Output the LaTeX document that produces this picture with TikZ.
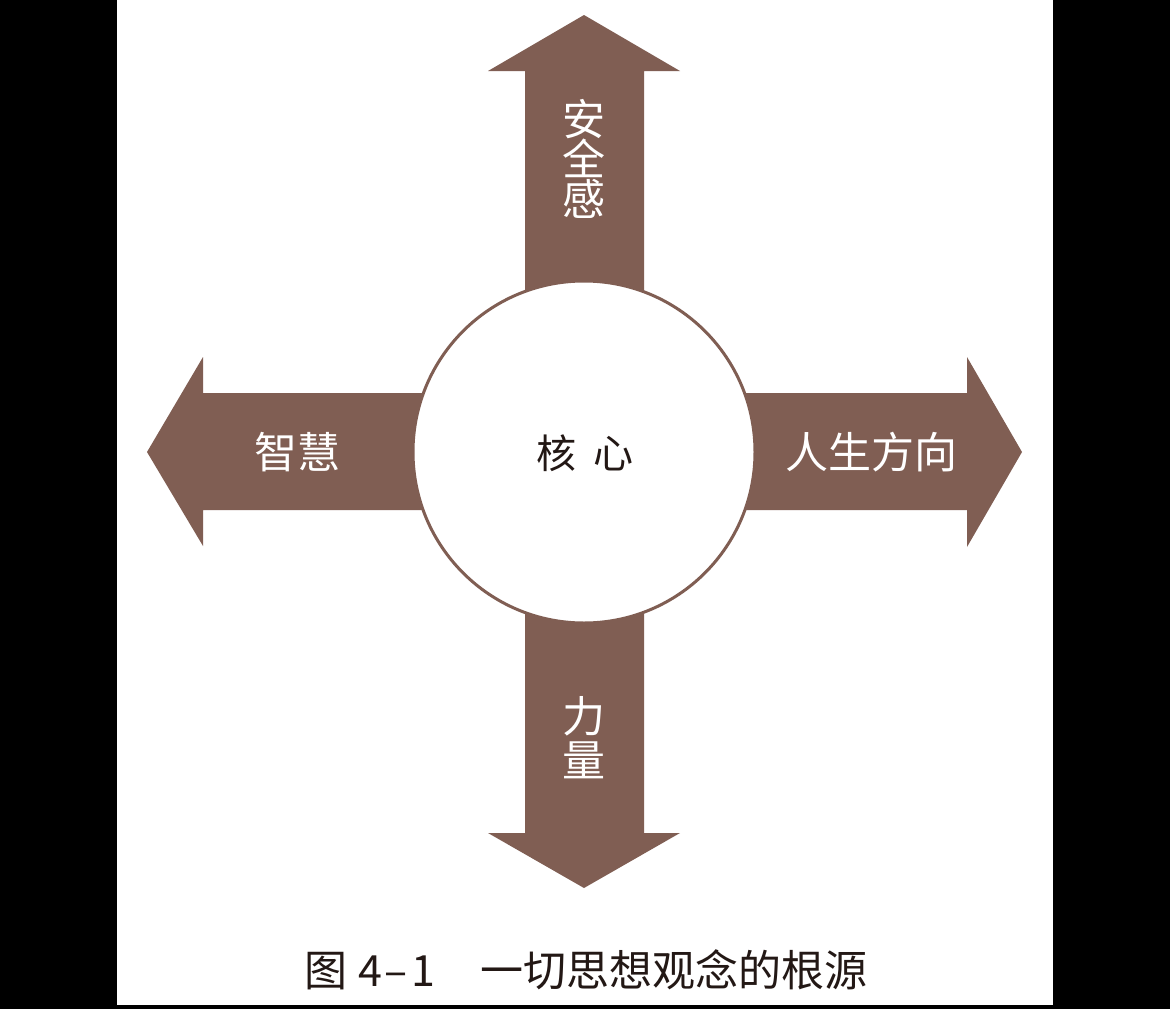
\documentclass[tikz,border=0pt]{standalone}
\usepackage{fontspec}
\newfontfamily\cjk{Noto Sans CJK SC}
\definecolor{arrowbrown}{RGB}{128,94,83}
\definecolor{captionblack}{RGB}{35,24,21}
\tikzset{
  arrowshape/.style={fill=arrowbrown, draw=none},
  corecircle/.style={circle, draw=arrowbrown, line width=3pt, fill=white, minimum size=342pt, inner sep=0pt},
  whitelabel/.style={text=white, font=\cjk\fontsize{43}{43}\selectfont, inner sep=0pt},
  vlabel/.style={whitelabel, align=center},
  corelabel/.style={text=captionblack, font=\cjk\fontsize{40}{40}\selectfont, inner sep=0pt},
  captionlabel/.style={text=captionblack, font=\cjk\fontsize{43}{43}\selectfont, inner sep=0pt}
}
\begin{document}
\begin{tikzpicture}[x=1pt,y=-1pt]
\useasboundingbox (0,0) rectangle (1170,1009);
\fill[black] (0,0) rectangle (1170,1009);
\fill[white] (117,0) rectangle (1053,1005);
% top arrow
\path[arrowshape] (525,452) -- (525,71) -- (488,71) -- (584,15) -- (680,71) -- (644,71) -- (644,452) -- cycle;
% bottom arrow
\path[arrowshape] (525,452) -- (525,833) -- (488,833) -- (584,888) -- (680,833) -- (644,833) -- (644,452) -- cycle;
% left arrow
\path[arrowshape] (584,393) -- (203,393) -- (203,357) -- (147,452) -- (203,546) -- (203,510) -- (584,510) -- cycle;
% right arrow
\path[arrowshape] (584,393) -- (967,393) -- (967,357) -- (1022,452) -- (967,547) -- (967,510) -- (584,510) -- cycle;
% circle
\node[corecircle] (core) at (584,452) {};
\node[corelabel] (corelbl) at (585,453) {核\hspace{0.45em}心};
\node[vlabel] (safety) at (584,159) {安\\[-3pt]全\\[-3pt]感};
\node[vlabel] (power) at (584,738) {力\\[1pt]量};
\node[whitelabel] (wisdom) at (297,452) {智慧};
\node[whitelabel] (direction) at (871,452) {人生方向};
\node[captionlabel] (caption) at (586,970) {图\hspace{11pt}4\hspace{3pt}–\hspace{3pt}1\hspace{46pt}一切思想观念的根源};
\end{tikzpicture}
\end{document}
